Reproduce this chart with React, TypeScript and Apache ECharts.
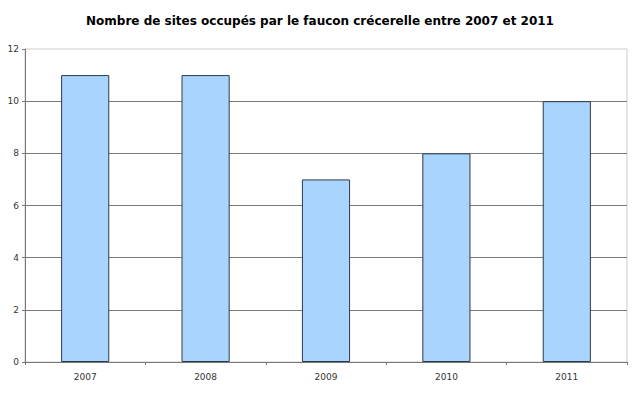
import React, { useEffect, useRef } from "react";
import * as echarts from "echarts";

const title = "Nombre de sites occupés par le faucon crécerelle entre 2007 et 2011";
const categories = ["2007", "2008", "2009", "2010", "2011"];
const values = [11, 11, 7, 8, 10];
const yMin = 0;
const yMax = 12;
const yInterval = 2;

export default function App() {
  const ref = useRef<HTMLDivElement>(null);
  useEffect(() => {
    document.body.style.margin = "0";
    const chart = echarts.init(ref.current!, null, { renderer: "svg" });
    chart.setOption({
      animation: false,
      backgroundColor: "#ffffff",
      title: {
        text: title,
        left: "center",
        top: 10,
        textStyle: {
          fontFamily: "DejaVu Sans",
          fontWeight: "bold",
          fontSize: 12,
          color: "#000000",
        },
      },
      grid: {
        left: 25,
        right: 13,
        top: 49,
        bottom: 33,
        show: true,
        borderColor: "#cccccc",
        borderWidth: 1,
      },
      xAxis: {
        type: "category",
        data: categories,
        axisLine: { lineStyle: { color: "#777777", width: 1 } },
        axisTick: { show: true, length: 3, lineStyle: { color: "#777777" } },
        axisLabel: {
          fontFamily: "DejaVu Sans",
          fontSize: 9,
          color: "#333333",
          margin: 10,
        },
      },
      yAxis: {
        type: "value",
        min: yMin,
        max: yMax,
        interval: yInterval,
        axisLine: { show: true, lineStyle: { color: "#777777", width: 1 } },
        axisTick: { show: true, length: 3, lineStyle: { color: "#777777" } },
        axisLabel: {
          fontFamily: "DejaVu Sans",
          fontSize: 9,
          color: "#333333",
          margin: 6,
        },
        splitLine: {
          show: true,
          showMaxLine: false,
          lineStyle: { color: "#7a7a7a", width: 1 },
        },
      },
      series: [
        {
          type: "bar",
          data: values,
          barWidth: "40%",
          itemStyle: {
            color: "#a8d4fd",
            borderColor: "#2f3a46",
            borderWidth: 1,
          },
        },
      ],
    });
    return () => chart.dispose();
  }, []);
  return <div ref={ref} style={{ width: 640, height: 395 }} />;
}
